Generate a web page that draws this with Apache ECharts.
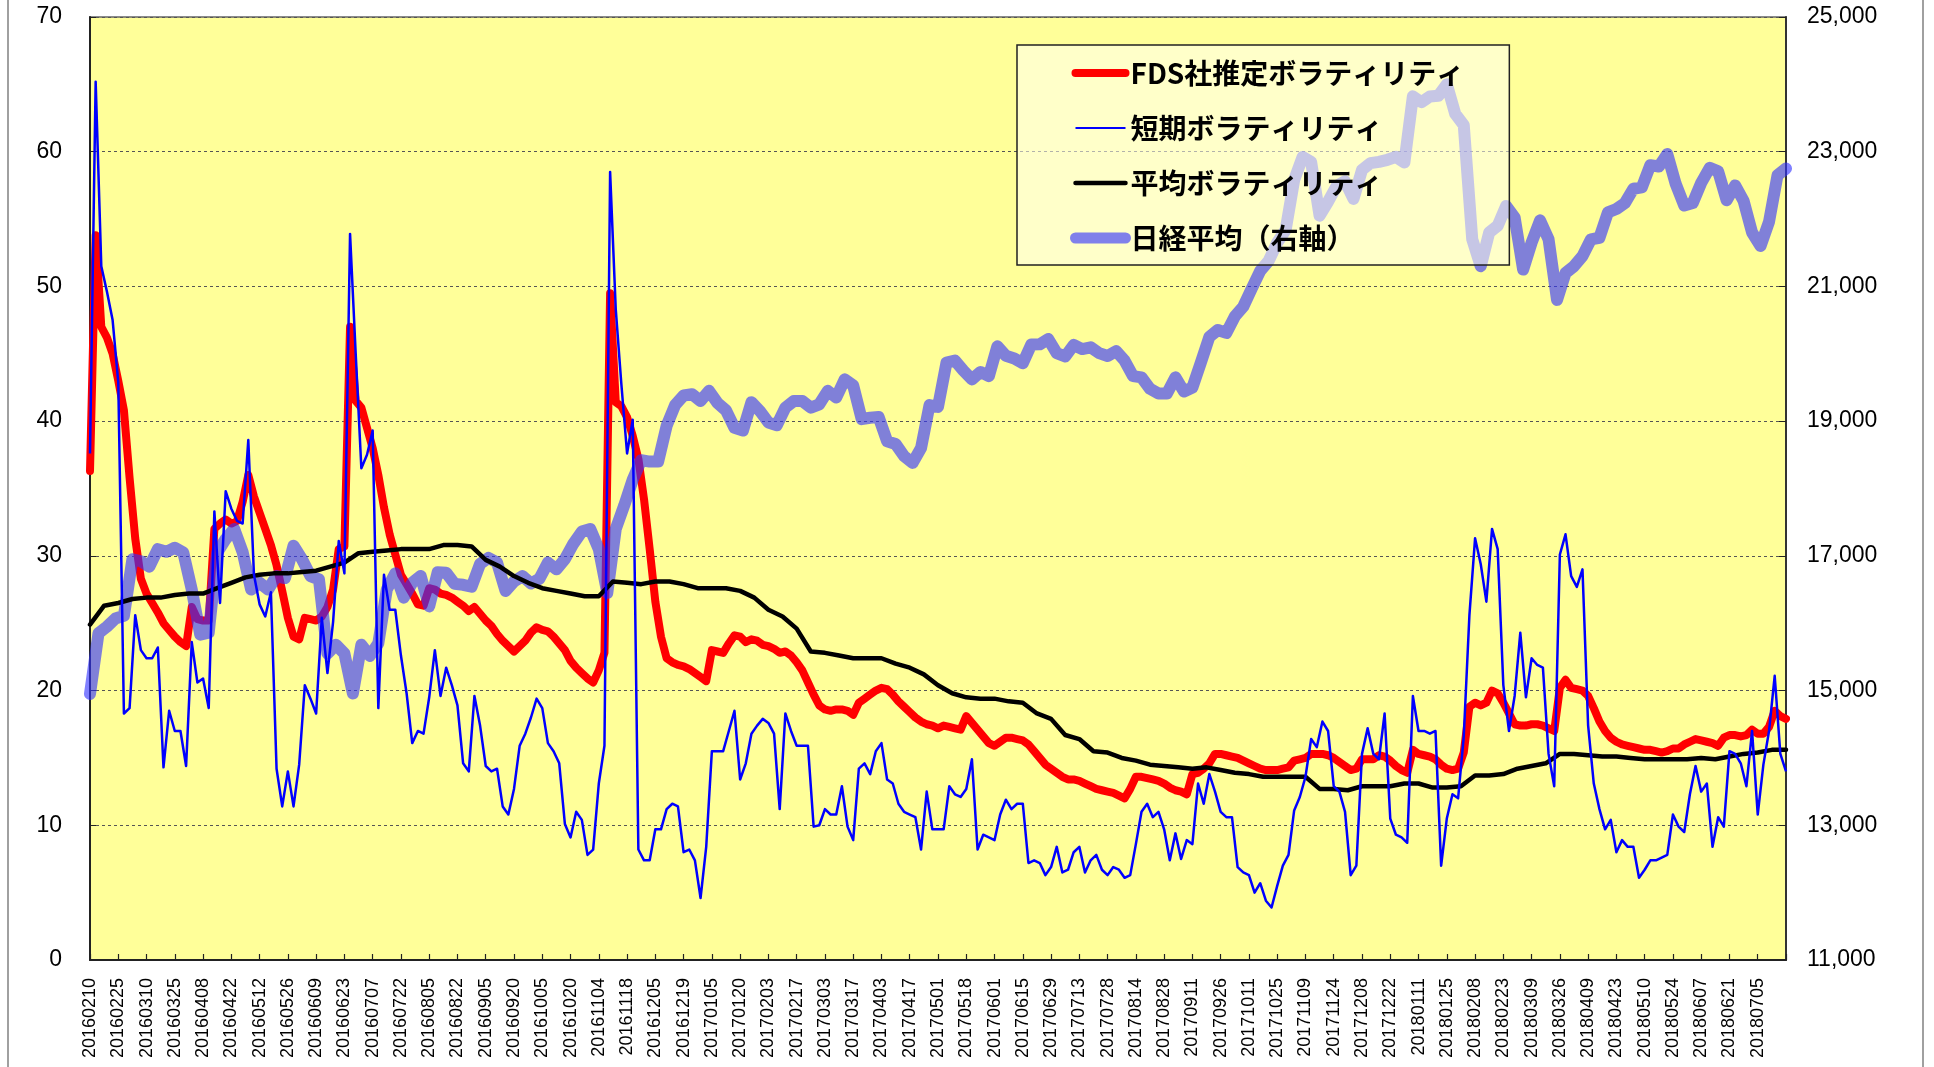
<!DOCTYPE html>
<html>
<head>
<meta charset="utf-8">
<title>ボラティリティ</title>
<script src="https://cdn.jsdelivr.net/npm/echarts@6/dist/echarts.min.js"></script>
<style>
	html, body { margin: 0; padding: 0; background: #fff; }
	#container { width: 1934px; height: 1067px; }
</style>
</head>
<body>
<div id="container"></div>
<script>
// x軸ラベル（10営業日ごと）
var dateLabels = [
	'20160210','20160225','20160310','20160325','20160408','20160422','20160512','20160526','20160609','20160623',
	'20160707','20160722','20160805','20160822','20160905','20160920','20161005','20161020','20161104','20161118',
	'20161205','20161219','20170105','20170120','20170203','20170217','20170303','20170317','20170403','20170417',
	'20170501','20170518','20170601','20170615','20170629','20170713','20170728','20170814','20170828','20170911',
	'20170926','20171011','20171025','20171109','20171124','20171208','20171222','20180111','20180125','20180208',
	'20180223','20180309','20180326','20180409','20180423','20180510','20180524','20180607','20180621','20180705'
];

// FDS社推定ボラティリティ（2営業日ごと）
var redStep = 2;
var redVals = [
	36.3, 53.8, 47.0, 46.2, 45.0, 43.0, 40.8, 35.8, 31.3, 28.3,
	27.2, 26.5, 25.8, 25.0, 24.5, 24.0, 23.6, 23.3, 26.2, 25.3,
	25.2, 25.2, 32.0, 32.4, 32.7, 32.4, 32.6, 34.0, 36.0, 34.4,
	33.2, 32.0, 30.8, 29.3, 27.4, 25.4, 24.0, 23.8, 25.4, 25.3,
	25.2, 25.5, 26.2, 27.5, 30.5, 30.7, 47.0, 41.5, 41.0, 39.5,
	38.0, 36.0, 33.6, 31.6, 30.1, 28.6, 27.9, 27.2, 26.4, 26.3,
	27.6, 27.5, 27.2, 27.1, 26.9, 26.6, 26.3, 25.9, 26.2, 25.7,
	25.2, 24.8, 24.2, 23.7, 23.3, 22.9, 23.3, 23.7, 24.3, 24.7,
	24.5, 24.4, 24.0, 23.5, 23.0, 22.2, 21.7, 21.3, 20.9, 20.6,
	21.5, 22.8, 49.5, 41.4, 41.1, 40.3, 38.9, 37.2, 34.2, 30.5,
	26.6, 24.0, 22.4, 22.1, 21.9, 21.8, 21.6, 21.3, 21.0, 20.7,
	23.0, 22.9, 22.8, 23.5, 24.1, 24.0, 23.6, 23.8, 23.7, 23.4,
	23.3, 23.1, 22.8, 22.9, 22.6, 22.1, 21.5, 20.6, 19.7, 18.9,
	18.6, 18.5, 18.6, 18.6, 18.5, 18.2, 19.1, 19.4, 19.7, 20.0,
	20.2, 20.1, 19.7, 19.2, 18.8, 18.4, 18.0, 17.7, 17.5, 17.4,
	17.2, 17.4, 17.3, 17.2, 17.1, 18.1, 17.6, 17.1, 16.6, 16.1,
	15.9, 16.2, 16.5, 16.5, 16.4, 16.3, 16.0, 15.5, 15.0, 14.5,
	14.2, 13.9, 13.6, 13.4, 13.4, 13.3, 13.1, 12.9, 12.7, 12.6,
	12.5, 12.4, 12.2, 12.0, 12.7, 13.6, 13.6, 13.5, 13.4, 13.3,
	13.1, 12.8, 12.6, 12.5, 12.3, 13.8, 13.9, 14.2, 14.6, 15.3,
	15.3, 15.2, 15.1, 15.0, 14.8, 14.6, 14.4, 14.2, 14.1, 14.1,
	14.1, 14.2, 14.3, 14.8, 14.9, 15.0, 15.3, 15.3, 15.3, 15.2,
	15.0, 14.7, 14.4, 14.1, 14.2, 14.9, 14.9, 14.9, 15.2, 15.1,
	14.8, 14.4, 14.1, 13.9, 15.6, 15.3, 15.2, 15.1, 14.9, 14.5,
	14.2, 14.1, 14.2, 15.4, 18.8, 19.1, 18.9, 19.1, 20.0, 19.8,
	19.1, 18.3, 17.5, 17.4, 17.4, 17.5, 17.5, 17.4, 17.2, 17.0,
	20.2, 20.8, 20.2, 20.1, 20.0, 19.6, 18.7, 17.7, 17.0, 16.5,
	16.2, 16.0, 15.9, 15.8, 15.7, 15.6, 15.6, 15.5, 15.4, 15.5,
	15.7, 15.7, 16.0, 16.2, 16.4, 16.3, 16.2, 16.1, 15.9, 16.5,
	16.7, 16.7, 16.6, 16.7, 17.1, 16.8, 16.8, 17.3, 18.5, 18.1,
	17.9
];

// 短期ボラティリティ（2営業日ごと）
var blueStep = 2;
var blueVals = [
	37.6, 65.2, 51.5, 49.6, 47.5, 42.9, 18.3, 18.7, 25.6, 23.0,
	22.4, 22.4, 23.2, 14.3, 18.5, 17.0, 17.0, 14.4, 23.6, 20.6,
	20.9, 18.7, 33.3, 26.5, 34.8, 33.5, 32.6, 32.4, 38.6, 28.6,
	26.4, 25.5, 27.3, 14.2, 11.4, 14.0, 11.4, 14.5, 20.4, 19.4,
	18.3, 25.4, 21.3, 25.1, 31.1, 28.7, 53.9, 45.0, 36.5, 37.5,
	39.3, 18.7, 28.6, 26.0, 26.0, 22.6, 19.8, 16.1, 17.0, 16.8,
	19.5, 23.0, 19.6, 21.7, 20.4, 18.9, 14.6, 14.0, 19.6, 17.4,
	14.4, 14.0, 14.2, 11.4, 10.8, 12.7, 15.9, 16.8, 18.0, 19.4,
	18.7, 16.1, 15.5, 14.6, 10.1, 9.1, 11.0, 10.4, 7.8, 8.2,
	13.1, 15.9, 58.5, 48.3, 42.7, 37.6, 40.1, 8.2, 7.4, 7.4,
	9.7, 9.7, 11.2, 11.6, 11.4, 8.0, 8.2, 7.4, 4.6, 8.4,
	15.5, 15.5, 15.5, 17.0, 18.5, 13.4, 14.6, 16.8, 17.4, 17.9,
	17.6, 16.8, 11.2, 18.3, 17.0, 15.9, 15.9, 15.9, 9.9, 10.0,
	11.2, 10.8, 10.8, 12.9, 9.9, 8.9, 14.2, 14.6, 13.8, 15.5,
	16.1, 13.4, 13.1, 11.6, 11.0, 10.8, 10.6, 8.2, 12.5, 9.7,
	9.7, 9.7, 12.9, 12.3, 12.1, 12.7, 14.9, 8.2, 9.3, 9.1,
	8.9, 10.8, 11.9, 11.2, 11.6, 11.6, 7.2, 7.4, 7.2, 6.3,
	6.9, 8.4, 6.5, 6.7, 8.0, 8.4, 6.5, 7.4, 7.8, 6.7,
	6.3, 6.9, 6.7, 6.1, 6.3, 8.6, 11.0, 11.6, 10.6, 11.0,
	9.7, 7.4, 9.4, 7.5, 8.9, 8.6, 13.1, 11.6, 13.8, 12.5,
	11.0, 10.6, 10.6, 6.9, 6.5, 6.3, 5.0, 5.7, 4.4, 3.9,
	5.5, 7.0, 7.8, 11.1, 12.1, 13.6, 16.4, 15.8, 17.7, 17.0,
	12.9, 12.5, 11.0, 6.3, 7.0, 15.3, 17.2, 15.3, 14.9, 18.3,
	10.5, 9.3, 9.1, 8.7, 19.6, 17.0, 17.0, 16.8, 17.0, 7.0,
	10.5, 12.3, 12.0, 16.6, 25.6, 31.3, 29.4, 26.6, 32.0, 30.5,
	20.4, 17.0, 19.6, 24.3, 19.5, 22.4, 21.9, 21.7, 15.3, 12.9,
	30.1, 31.6, 28.5, 27.7, 29.0, 17.4, 13.1, 11.2, 9.7, 10.4,
	8.0, 8.9, 8.4, 8.4, 6.1, 6.7, 7.4, 7.4, 7.6, 7.8,
	10.8, 9.9, 9.5, 12.3, 14.4, 12.5, 13.1, 8.4, 10.6, 9.9,
	15.5, 15.3, 14.6, 12.9, 17.0, 10.8, 14.5, 17.0, 21.1, 15.3,
	14.0
];

// 平均ボラティリティ（5営業日ごと）
var blackStep = 5;
var blackVals = [
	24.9, 26.3, 26.5, 26.8, 26.9, 26.9, 27.1, 27.2, 27.2, 27.6,
	28.0, 28.4, 28.6, 28.7, 28.7, 28.8, 28.9, 29.2, 29.5, 30.2,
	30.3, 30.4, 30.5, 30.5, 30.5, 30.8, 30.8, 30.7, 29.7, 29.2,
	28.5, 28.0, 27.6, 27.4, 27.2, 27.0, 27.0, 28.1, 28.0, 27.9,
	28.1, 28.1, 27.9, 27.6, 27.6, 27.6, 27.4, 26.9, 26.0, 25.5,
	24.6, 22.9, 22.8, 22.6, 22.4, 22.4, 22.4, 22.0, 21.7, 21.2,
	20.4, 19.8, 19.5, 19.4, 19.4, 19.2, 19.1, 18.3, 17.9, 16.7,
	16.4, 15.5, 15.4, 15.0, 14.8, 14.5, 14.4, 14.3, 14.2, 14.3,
	14.1, 13.9, 13.8, 13.6, 13.6, 13.6, 13.6, 12.7, 12.7, 12.6,
	12.9, 12.9, 12.9, 13.1, 13.1, 12.8, 12.8, 12.9, 13.7, 13.7,
	13.8, 14.2, 14.4, 14.6, 15.3, 15.3, 15.2, 15.1, 15.1, 15.0,
	14.9, 14.9, 14.9, 14.9, 15.0, 14.9, 15.1, 15.3, 15.4, 15.6,
	15.6
];

// 日経平均（右軸、3営業日ごと）
var nikkeiStep = 3;
var nikkeiVals = [
	14950, 15850, 15950, 16070, 16110, 16950, 16920, 16840, 17100, 17060,
	17120, 17050, 16500, 15830, 15860, 17050, 17250, 17400, 17055, 16500,
	16600, 16500, 16700, 16670, 17150, 16950, 16700, 16650, 15550, 15680,
	15550, 14957, 15680, 15514, 15700, 16500, 16740, 16380, 16600, 16700,
	16250, 16756, 16750, 16584, 16570, 16541, 16880, 16970, 16900, 16480,
	16620, 16700, 16590, 16660, 16900, 16800, 16950, 17180, 17360, 17398,
	17100, 16450, 17400, 17750, 18130, 18420, 18400, 18400, 18930, 19240,
	19380, 19400, 19300, 19450, 19270, 19160, 18900, 18860, 19282, 19150,
	18980, 18940, 19200, 19300, 19300, 19200, 19250, 19450, 19350, 19620,
	19530, 19030, 19050, 19060, 18700, 18660, 18480, 18380, 18600, 19239,
	19210, 19870, 19900, 19750, 19620, 19730, 19668, 20110, 19970, 19930,
	19860, 20139, 20140, 20220, 20010, 19960, 20130, 20070, 20096, 20010,
	19968, 20040, 19900, 19668, 19650, 19480, 19411, 19411, 19650, 19440,
	19500, 19870, 20250, 20353, 20310, 20555, 20700, 20970, 21230, 21380,
	21650, 21840, 22580, 22923, 22850, 22050, 22260, 22490, 22560, 22300,
	22730, 22830, 22850, 22880, 22923, 22840, 23822, 23736, 23820, 23830,
	24000, 23560, 23394, 21700, 21300, 21800, 21900, 22195, 22023, 21250,
	21650, 21981, 21700, 20800, 21200, 21300, 21450, 21700, 21723, 22100,
	22150, 22237, 22451, 22470, 22800, 22780, 22965, 22520, 22200, 22237,
	22537, 22760, 22708, 22280, 22500, 22270, 21800, 21600, 21960, 22650,
	22751
];

function toPairs(vals, step) {
	return vals.map(function (v, k) { return [k * step, v]; });
}

var myChart = echarts.init(document.getElementById('container'));

var axisFont = 'Liberation Sans, Arial, sans-serif';
var nikkeiColor = 'rgba(50,50,255,0.62)';

var option = {
	animation: false,
	backgroundColor: '#ffffff',
	graphic: [{
		type: 'rect',
		shape: { x: 8, y: -5, width: 1915, height: 1080 },
		style: { fill: 'none', stroke: '#a0a0a0', lineWidth: 2 },
		silent: true
	}],
	grid: {
		left: 90,
		right: 148,
		top: 17,
		bottom: 107,
		show: true,
		backgroundColor: '#ffff99',
		borderColor: '#666',
		borderWidth: 1.5
	},
	legend: {
		// 凡例の線は系列と同じ太さで、丸マーカーは出さない
		data: [
			{ name: 'FDS社推定ボラティリティ', lineStyle: { width: 8, color: '#ff0000', cap: 'round' } },
			{ name: '短期ボラティリティ', lineStyle: { width: 2, color: '#0000ff' } },
			{ name: '平均ボラティリティ', lineStyle: { width: 4.5, color: '#000000', cap: 'round' } },
			{ name: '日経平均（右軸）', lineStyle: { width: 11, color: nikkeiColor, cap: 'round' } }
		],
		orient: 'vertical',
		left: 1017,
		top: 45,
		padding: [13, 45, 12, 53],
		itemWidth: 50,
		itemHeight: 14,
		itemGap: 25,
		itemStyle: { color: 'rgba(0,0,0,0)', borderWidth: 0, borderColor: 'rgba(0,0,0,0)' },
		backgroundColor: 'rgba(255,255,240,0.55)',
		borderColor: '#222',
		borderWidth: 1.5,
		textStyle: {
			fontFamily: 'Noto Sans CJK JP',
			fontSize: 28,
			fontWeight: 'bold',
			lineHeight: 30,
			color: '#000'
		}
	},
	xAxis: {
		type: 'value',
		min: 0,
		max: 600,
		interval: 10,
		axisLine: { show: true, lineStyle: { color: '#222', width: 2 } },
		axisTick: { show: true, inside: true, length: 6, lineStyle: { color: '#222', width: 1.2 } },
		splitLine: { show: false },
		axisLabel: {
			rotate: 90,
			margin: 18,
			fontFamily: axisFont,
			fontSize: 18,
			color: '#000',
			formatter: function (v) {
				var k = Math.round(v / 10);
				return dateLabels[k] || '';
			}
		}
	},
	yAxis: [{
		type: 'value',
		min: 0,
		max: 70,
		interval: 10,
		axisLine: { show: true, lineStyle: { color: '#222', width: 2 } },
		axisTick: { show: true, inside: true, length: 6, lineStyle: { color: '#222' } },
		splitLine: { show: true, lineStyle: { color: '#555', width: 1, type: [3, 3] } },
		axisLabel: { margin: 28, fontFamily: axisFont, fontSize: 23, color: '#000' }
	}, {
		type: 'value',
		min: 11000,
		max: 25000,
		interval: 2000,
		position: 'right',
		axisLine: { show: true, lineStyle: { color: '#333', width: 2 } },
		axisTick: { show: true, inside: true, length: 7, lineStyle: { color: '#222' } },
		splitLine: { show: false },
		axisLabel: {
			margin: 21,
			fontFamily: axisFont,
			fontSize: 23,
			color: '#000',
			formatter: function (v) { return v.toLocaleString('en-US'); }
		}
	}],
	series: [{
		name: 'FDS社推定ボラティリティ',
		type: 'line',
		data: toPairs(redVals, redStep),
		symbol: 'none',
		z: 2,
		lineStyle: { color: '#ff0000', width: 8, cap: 'round', join: 'round' },
		itemStyle: { color: '#ff0000' }
	}, {
		name: '日経平均（右軸）',
		type: 'line',
		yAxisIndex: 1,
		data: toPairs(nikkeiVals, nikkeiStep),
		symbol: 'none',
		z: 3,
		lineStyle: { color: nikkeiColor, width: 12, cap: 'round', join: 'round' },
		itemStyle: { color: nikkeiColor }
	}, {
		name: '平均ボラティリティ',
		type: 'line',
		data: toPairs(blackVals, blackStep),
		symbol: 'none',
		z: 4,
		lineStyle: { color: '#000000', width: 4.5, cap: 'round', join: 'round' },
		itemStyle: { color: '#000000' }
	}, {
		name: '短期ボラティリティ',
		type: 'line',
		data: toPairs(blueVals, blueStep),
		symbol: 'none',
		z: 5,
		lineStyle: { color: '#0000ff', width: 2.5, join: 'round' },
		itemStyle: { color: '#0000ff' }
	}]
};

myChart.setOption(option);
</script>
</body>
</html>
